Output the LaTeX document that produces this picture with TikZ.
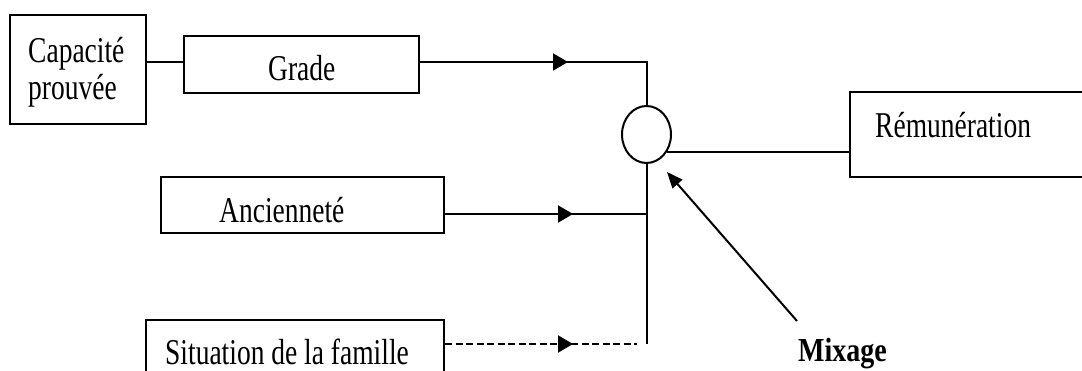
\documentclass[tikz,border=0pt]{standalone}
\usepackage{fontspec}
\setmainfont{Liberation Serif}
\usepackage{graphicx}
\usetikzlibrary{arrows.meta,shapes.geometric,decorations.markings}
% text is set slightly taller than wide
\newcommand\tallt[1]{\scalebox{1}[1.32]{#1}}
\tikzset{
  box/.style={draw, line width=2pt, rectangle, inner sep=0pt},
  lbl/.style={inner sep=0pt, anchor=base west, font=\fontsize{27.5}{28.5}\selectfont},
  wire/.style={line width=2pt},
  midarrow/.style={postaction={decorate}, decoration={markings,
      mark=at position #1 with {\arrow[solid]{Triangle[length=15pt,width=17pt]}}}},
}
\begin{document}
\begin{tikzpicture}[x=1pt,y=-1pt]
\useasboundingbox (0,0) rectangle (1082,371);
\clip (0,0) rectangle (1082,371);

% boxes
\node[box, minimum width=136pt, minimum height=109pt] (cap)   at (78,69.5)   {};
\node[box, minimum width=235pt, minimum height=57pt]  (grade) at (301.5,64.5) {};
\node[box, minimum width=283pt, minimum height=56pt]  (anc)   at (302.5,205)  {};
\node[box, minimum width=298pt, minimum height=80pt]  (sit)   at (295,360)    {};
\node[box, minimum width=250pt, minimum height=85pt]  (rem)   at (975,134.5)  {};
\node[draw, line width=2pt, ellipse, inner sep=0pt,
      minimum width=49pt, minimum height=57pt] (circ) at (646.5,134.5) {};

% labels
\node[lbl] (capt)   at (28,100)  {\tallt{\begin{tabular}[b]{@{}l@{}}Capacité\\prouvée\end{tabular}}};
\node[lbl] (gradet) at (268,81)  {\tallt{Grade}};
\node[lbl] (anct)   at (219,223) {\tallt{Ancienneté}};
\node[lbl] (sitt)   at (165,364) {\tallt{Situation de la famille}};
\node[lbl] (remt)   at (875,138) {\tallt{Rémunération}};
\node[lbl, font=\fontsize{28}{28.5}\selectfont\bfseries] (mix) at (798,362) {\scalebox{1}[1.2]{Mixage}};

% connectors
\coordinate (gin)  at ([yshift=2.5pt]grade.west);
\coordinate (gout) at ([yshift=2.5pt]grade.east);
\draw[wire] (cap.east |- gin) -- (gin);
\draw[wire, midarrow=148pt] (gout) -- (gout -| circ.north) -- (circ.north);

\coordinate (trunkend) at (646.5,344);
\draw[wire] (circ.south) -- (trunkend);

\coordinate (aout) at ([yshift=-9pt]anc.east);
\draw[wire, midarrow=128pt] (aout) -- (aout -| trunkend);

\coordinate (sout) at (sit.east |- trunkend);
\coordinate (dashend) at ([xshift=-10pt]trunkend);
\draw[wire, dash pattern=on 7pt off 3.5pt, midarrow=128pt] (sout) -- (dashend);

\coordinate (cout) at (circ.-40);
\draw[wire] (cout) -- (cout -| rem.west);

\coordinate (mtail) at (797,321);
\coordinate (mtip)  at (667,172);
\draw[wire, -{Triangle[length=16pt,width=13pt]}] (mtail) -- (mtip);
\end{tikzpicture}
\end{document}
